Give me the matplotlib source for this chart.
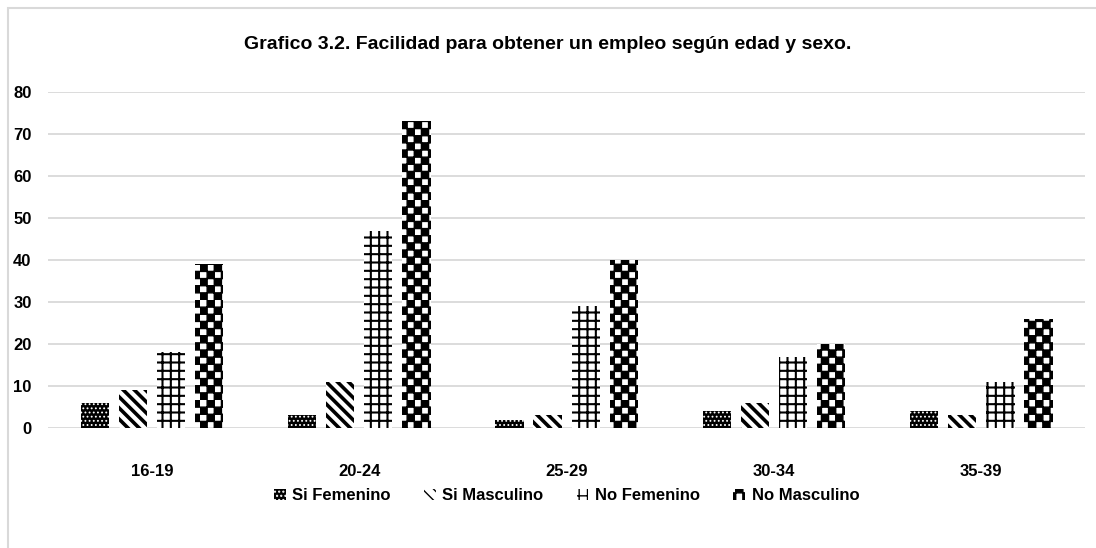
import numpy as np
import matplotlib
matplotlib.use("Agg")
import matplotlib.pyplot as plt
from matplotlib import hatch as mhatch
from matplotlib.path import Path
from matplotlib.patches import Rectangle
from matplotlib import font_manager as fm

# data
grupos = ["16-19", "20-24", "25-29", "30-34", "35-39"]
si_femenino = [6, 3, 2, 4, 4]
si_masculino = [9, 11, 3, 6, 3]
no_femenino = [18, 47, 29, 17, 11]
no_masculino = [39, 73, 40, 20, 26]
series = ["Si Femenino", "Si Masculino", "No Femenino", "No Masculino"]
titulo = "Grafico 3.2. Facilidad para obtener un empleo según edad y sexo."


# checkerboard hatch, takes the place of the '*' pattern
class Checker(mhatch.HatchPatternBase):
    def __init__(self, hatch, density):
        self.n = hatch.count('*') * 7
        if self.n % 2:
            self.n += 1
        self.num_vertices = 5 * (self.n * self.n // 2) if self.n else 0

    def set_vertices_and_codes(self, vertices, codes):
        s = 1.0 / self.n
        sq = np.array([[0, 0], [s, 0], [s, s], [0, s], [0, 0]])
        k = 0
        for i in range(self.n):
            for j in range(self.n):
                if (i + j) % 2 == 0:
                    vertices[k:k + 5] = sq + [i * s, j * s]
                    codes[k:k + 5] = [Path.MOVETO, Path.LINETO, Path.LINETO,
                                      Path.LINETO, Path.CLOSEPOLY]
                    k += 5


mhatch._hatch_types = [t for t in mhatch._hatch_types if t is not mhatch.Stars] + [Checker]

names = {f.name for f in fm.fontManager.ttflist}
fuente = "Liberation Sans Narrow" if "Liberation Sans Narrow" in names else "Liberation Sans"
plt.rcParams["font.family"] = [fuente, "DejaVu Sans"]

fig = plt.figure(figsize=(10.96, 5.48), dpi=100)
fig.patches.append(Rectangle((8 / 1096, -0.1), 1.2, 1.1 - 8 / 548, transform=fig.transFigure,
                             fill=False, edgecolor="#d9d9d9", linewidth=1.5))
ax = fig.add_axes([0.044, 0.219, 0.946, 0.613])

x = np.arange(len(grupos))
w = 0.136
paso = 0.184
estilos = [
    dict(color="black", edgecolor="white", hatch="....", hlw=0.8),
    dict(color="white", edgecolor="black", hatch="\\\\\\", hlw=2.6),
    dict(color="white", edgecolor="black", hatch="++", hlw=1.5),
    dict(color="white", edgecolor="black", hatch="**", hlw=1.0),
]
valores = [si_femenino, si_masculino, no_femenino, no_masculino]

for k, (vals, est, nombre) in enumerate(zip(valores, estilos, series)):
    with plt.rc_context({"hatch.linewidth": est["hlw"]}):
        ax.bar(x + (k - 1.5) * paso, vals, w, color=est["color"], edgecolor=est["edgecolor"],
               hatch=est["hatch"], linewidth=0, label=nombre, zorder=3)

ax.set_xlim(-0.5, 4.5)
ax.set_ylim(0, 80)
ax.set_yticks(range(0, 81, 10))
ax.set_xticks(x)
ax.set_xticklabels(grupos, fontsize=12, fontweight="bold")
for t in ax.get_yticklabels():
    t.set_fontsize(12)
    t.set_fontweight("bold")
ax.tick_params(length=0)
ax.tick_params(axis="x", pad=26)
ax.tick_params(axis="y", pad=12)
ax.grid(axis="y", color="#d9d9d9", linewidth=1.3, zorder=0)
for s in ax.spines.values():
    s.set_visible(False)

fig.text(0.5, 0.918, titulo, ha="center", va="center", fontsize=14, fontweight="bold")

ax.legend(loc="upper center", bbox_to_anchor=(0.5, -0.135), ncol=4, frameon=False,
          prop={"size": 12, "weight": "bold"}, handlelength=0.7, handleheight=0.7,
          handletextpad=0.4, columnspacing=2.0)

fig.savefig("out.png", dpi=100)
